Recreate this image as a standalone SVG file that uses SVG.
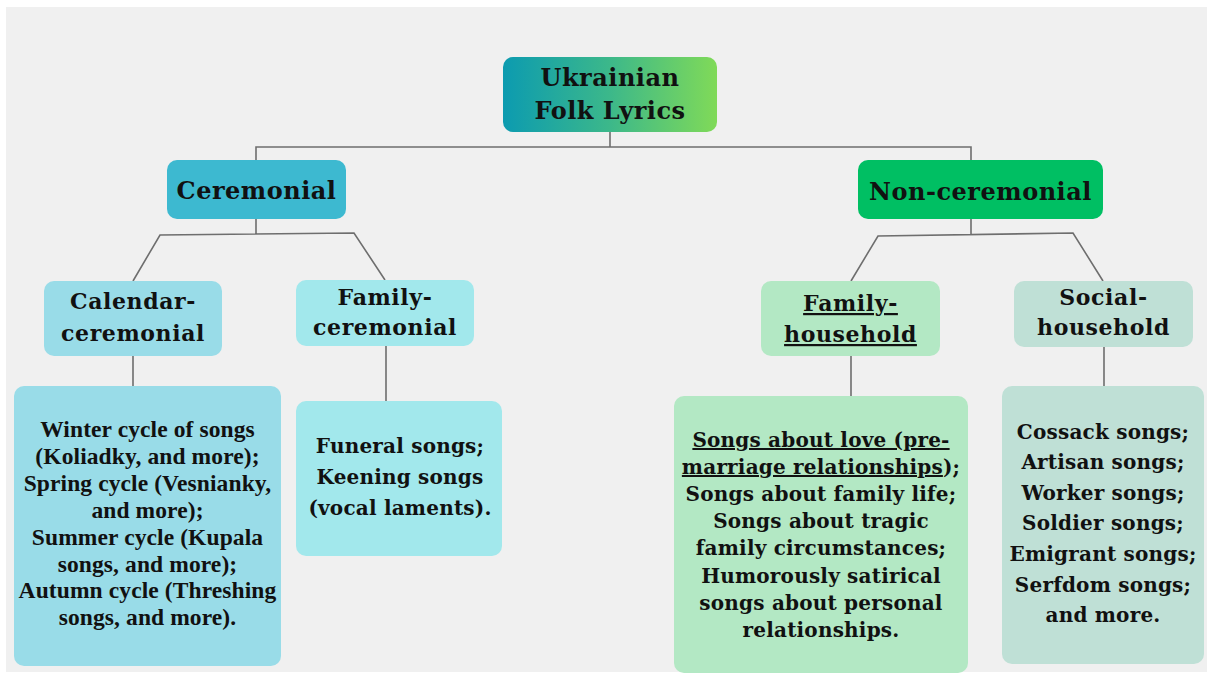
<svg xmlns="http://www.w3.org/2000/svg" width="1207" height="675" viewBox="0 0 1207 675">
<defs>
<linearGradient id="rootGrad" x1="0" y1="0" x2="1" y2="0">
<stop offset="0" stop-color="#0c9bb0"/>
<stop offset="0.5" stop-color="#3cb88a"/>
<stop offset="1" stop-color="#80da58"/>
</linearGradient>
</defs>
<style>
text{font-family:"DejaVu Serif","Liberation Serif",serif;font-weight:bold;fill:#111;text-anchor:middle}
.t1{font-size:24px;letter-spacing:0.5px}
.t2{font-size:22px;letter-spacing:0.6px}
.d{font-family:"Liberation Serif","DejaVu Serif",serif;font-size:23.5px;letter-spacing:0.1px}
.e{font-size:20px;letter-spacing:0.2px}
.conn{fill:none;stroke:#6e6e6e;stroke-width:1.6}
.u{text-decoration:underline}
</style>
<rect x="6" y="7" width="1201" height="665" fill="#f0f0f0"/>
<g id="connectors">
<path class="conn" d="M610 132V147M256 160V147H971V160"/>
<path class="conn" d="M256 219V234M133 281L160 235L354 233L385 280"/>
<path class="conn" d="M971 219V234M851 281L878 236L1073 233L1103 281"/>
<path class="conn" d="M133 356V386M386 346V401M851 356V396M1104 347V386"/>
</g>
<g id="root">
<rect x="503" y="57" width="214" height="75" rx="10" fill="url(#rootGrad)"/>
<text class="t1" x="610" y="86">Ukrainian</text>
<text class="t1" x="610" y="119">Folk Lyrics</text>
</g>
<g id="ceremonial">
<rect x="167" y="160" width="179" height="59" rx="10" fill="#3db9d0"/>
<text class="t1" x="256.5" y="199">Ceremonial</text>
</g>
<g id="non-ceremonial">
<rect x="858" y="160" width="245" height="59" rx="10" fill="#00bf63"/>
<text class="t1" x="980.5" y="200">Non-ceremonial</text>
</g>
<g id="calendar-ceremonial">
<rect x="44" y="281" width="178" height="75" rx="10" fill="#99dce8"/>
<text class="t2" x="133" y="309">Calendar-</text>
<text class="t2" x="133" y="341">ceremonial</text>
</g>
<g id="family-ceremonial">
<rect x="296" y="280" width="178" height="66" rx="10" fill="#a2e8ec"/>
<text class="t2" x="385" y="305">Family-</text>
<text class="t2" x="385" y="335">ceremonial</text>
</g>
<g id="family-household">
<rect x="761" y="281" width="179" height="75" rx="10" fill="#b3e8c4"/>
<text class="t2 u" x="850.5" y="311">Family-</text>
<text class="t2 u" x="850.5" y="342">household</text>
</g>
<g id="social-household">
<rect x="1014" y="281" width="179" height="66" rx="10" fill="#bfe0d6"/>
<text class="t2" x="1103.5" y="305">Social-</text>
<text class="t2" x="1103.5" y="335">household</text>
</g>
<g id="calendar-details">
<rect x="14" y="386" width="267" height="280" rx="10" fill="#99dce8"/>
<text class="d" x="147.5" y="437">Winter cycle of songs</text>
<text class="d" x="147.5" y="464">(Koliadky, and more);</text>
<text class="d" x="147.5" y="491">Spring cycle (Vesnianky,</text>
<text class="d" x="147.5" y="518">and more);</text>
<text class="d" x="147.5" y="545">Summer cycle (Kupala</text>
<text class="d" x="147.5" y="572">songs, and more);</text>
<text class="d" x="147.5" y="598">Autumn cycle (Threshing</text>
<text class="d" x="147.5" y="625">songs, and more).</text>
</g>
<g id="family-ceremonial-details">
<rect x="296" y="401" width="206" height="155" rx="10" fill="#a2e8ec"/>
<text class="e" x="400" y="453">Funeral songs;</text>
<text class="e" x="400" y="484">Keening songs</text>
<text class="e" x="400" y="515">(vocal laments).</text>
</g>
<g id="family-household-details">
<rect x="674" y="396" width="294" height="277" rx="10" fill="#b3e8c4"/>
<text class="e u" x="821" y="447">Songs about love (pre-</text>
<text class="e" x="821" y="474"><tspan class="u">marriage relationships</tspan>);</text>
<text class="e" x="821" y="501">Songs about family life;</text>
<text class="e" x="821" y="528">Songs about tragic</text>
<text class="e" x="821" y="555">family circumstances;</text>
<text class="e" x="821" y="583">Humorously satirical</text>
<text class="e" x="821" y="610">songs about personal</text>
<text class="e" x="821" y="637">relationships.</text>
</g>
<g id="social-household-details">
<rect x="1002" y="386" width="202" height="278" rx="10" fill="#bfe0d6"/>
<text class="e" x="1103" y="439">Cossack songs;</text>
<text class="e" x="1103" y="469">Artisan songs;</text>
<text class="e" x="1103" y="500">Worker songs;</text>
<text class="e" x="1103" y="530">Soldier songs;</text>
<text class="e" x="1103" y="561">Emigrant songs;</text>
<text class="e" x="1103" y="592">Serfdom songs;</text>
<text class="e" x="1103" y="622">and more.</text>
</g>
</svg>
